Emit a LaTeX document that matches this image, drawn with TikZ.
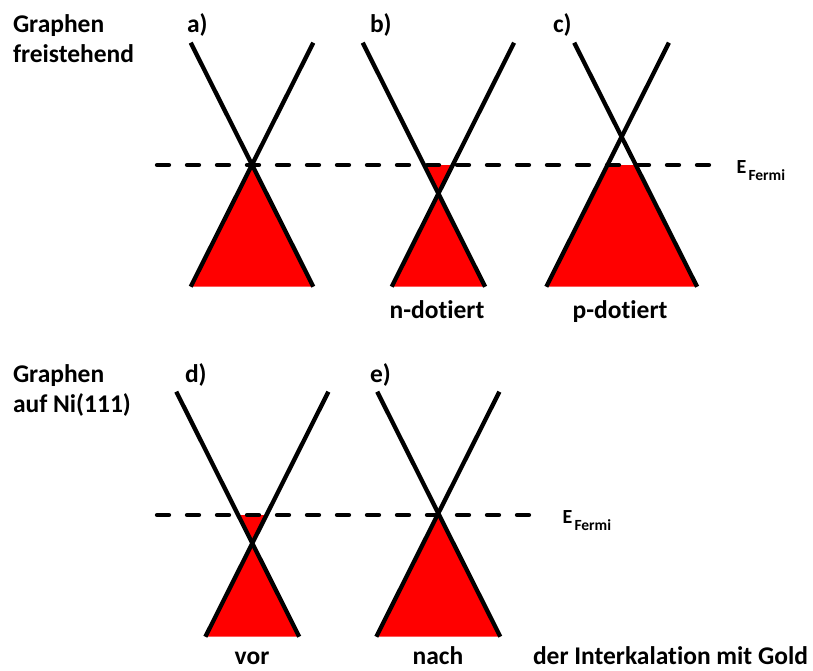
\documentclass[tikz,border=0pt]{standalone}
\usepackage{fontspec}
\setmainfont{Carlito}[Ligatures=NoCommon]
\definecolor{bandred}{RGB}{255,0,0}
\begin{document}
\begin{tikzpicture}[x=1pt,y=-1pt,
  band/.style={line width=4.3pt,black},
  fermi/.style={line width=4.3pt,black,dash pattern=on 12pt off 18pt,line cap=round},
  filled/.style={fill=bandred,draw=none},
  lbl/.style={inner sep=0pt,outer sep=0pt,font=\fontsize{25.5}{30}\selectfont\bfseries},
  ebig/.style={inner sep=0pt,outer sep=0pt,font=\fontsize{20}{22}\selectfont\bfseries},
  esub/.style={inner sep=0pt,outer sep=0pt,font=\fontsize{15.5}{18}\selectfont\bfseries}]
\useasboundingbox (0,0) rectangle (813,670);
% ---------- fills ----------
% a
\fill[filled] (252,164.7) -- (190.7,286.7) -- (313.3,286.7) -- cycle;
% b
\fill[filled] (424,165) -- (452.8,165) -- (438.4,193.7) -- cycle;
\fill[filled] (438.4,193.7) -- (391.7,286.7) -- (485.1,286.7) -- cycle;
% c
\fill[filled] (607.5,165) -- (635.9,165) -- (697.1,286.7) -- (546.3,286.7) -- cycle;
% d
\fill[filled] (238.1,515) -- (266.5,515) -- (252.3,543.3) -- cycle;
\fill[filled] (252.3,543.3) -- (205.4,636.7) -- (299.2,636.7) -- cycle;
% e
\fill[filled] (438.3,514) -- (376.3,636.7) -- (500.3,636.7) -- cycle;
% ---------- Fermi levels ----------
\coordinate (f1s) at (157,165);
\coordinate (f1e) at (712,165);
\coordinate (f2s) at (157,515);
\coordinate (f2e) at (530,515);
\draw[fermi] (f1s) -- (f1e);
\draw[fermi] (f2s) -- (f2e);
% ---------- bands ----------
% a
\coordinate (a1) at (190.7,42.7); \coordinate (a2) at (313.3,286.7);
\coordinate (a3) at (313.3,42.7); \coordinate (a4) at (190.7,286.7);
\draw[band] (a1) -- (a2); \draw[band] (a3) -- (a4);
% b
\coordinate (b1) at (362.7,42.7); \coordinate (b2) at (485.1,286.7);
\coordinate (b3) at (514.1,42.7); \coordinate (b4) at (391.7,286.7);
\draw[band] (b1) -- (b2); \draw[band] (b3) -- (b4);
% c
\coordinate (c1) at (574.2,42.7); \coordinate (c2) at (697.1,286.7);
\coordinate (c3) at (668.9,42.7); \coordinate (c4) at (546.3,286.7);
\draw[band] (c1) -- (c2); \draw[band] (c3) -- (c4);
% d
\coordinate (d1) at (176.3,391.7); \coordinate (d2) at (299.2,636.7);
\coordinate (d3) at (328.4,391.7); \coordinate (d4) at (205.4,636.7);
\draw[band] (d1) -- (d2); \draw[band] (d3) -- (d4);
% e
\coordinate (e1) at (377.2,391.7); \coordinate (e2) at (500.3,636.7);
\coordinate (e3) at (499.4,391.7); \coordinate (e4) at (376.3,636.7);
\draw[band] (e1) -- (e2); \draw[band] (e3) -- (e4);
% ---------- texts ----------
\node[lbl,anchor=base west] (g1) at (13,32) {Graphen};
\node[lbl,anchor=base west] (g1b) at (13,62) {freistehend};
\node[lbl,anchor=base west] (la) at (187,32) {a)};
\node[lbl,anchor=base west] (lb) at (370,32) {b)};
\node[lbl,anchor=base west] (lc) at (553,32) {c)};
\node[lbl,anchor=base] (nd) at (437,318) {n-dotiert};
\node[lbl,anchor=base] (pd) at (620,318) {p-dotiert};
\node[lbl,anchor=base west] (g2) at (13,382) {Graphen};
\node[lbl,anchor=base west] (g2b) at (13,412) {auf Ni(111)};
\node[lbl,anchor=base west] (ld) at (185,382) {d)};
\node[lbl,anchor=base west] (le) at (370,382) {e)};
\node[lbl,anchor=base] (vor) at (252,664) {vor};
\node[lbl,anchor=base] (nach) at (438,664) {nach};
\node[lbl,anchor=base west] (gold) at (533,664) {der Interkalation mit Gold};
\node[ebig,anchor=base west] (E1) at (736.5,173.3) {E};
\node[esub,anchor=base west] (F1) at (748.5,180.7) {Fermi};
\node[ebig,anchor=base west] (E2) at (562.5,523.3) {E};
\node[esub,anchor=base west] (F2) at (574.5,530.7) {Fermi};
\end{tikzpicture}
\end{document}
